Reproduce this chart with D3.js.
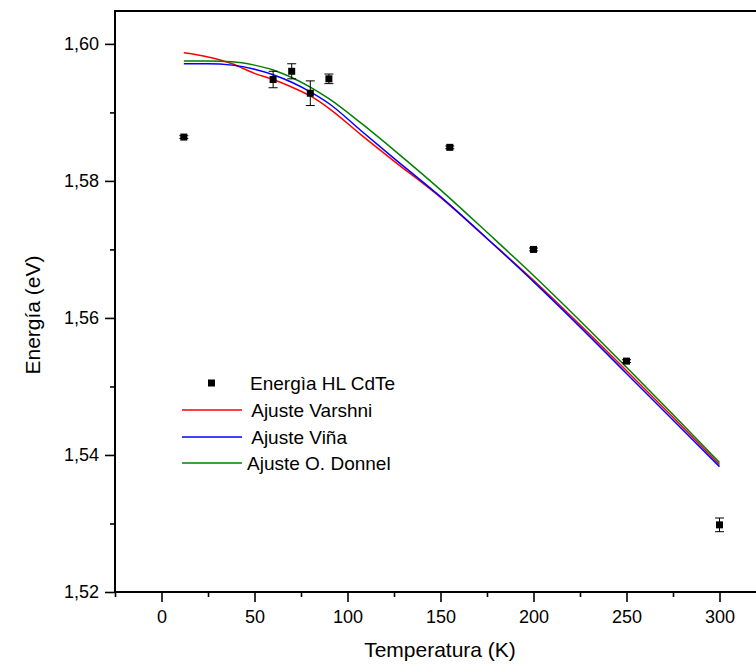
<!DOCTYPE html>
<html>
<head>
<meta charset="utf-8">
<script src="https://cdn.jsdelivr.net/npm/d3@7"></script>
<style>
  html, body { margin: 0; padding: 0; background: #fff; }
  svg { display: block; font-family: "Liberation Sans", Arial, sans-serif; }
</style>
</head>
<body>
<svg id="chart" width="756" height="671"></svg>
<script>
// Measured band-gap energy of the HL line in CdTe
const tempK    = [12, 60, 70, 80, 90, 155, 200, 250, 300];
const energyEv = [1.5864, 1.5948, 1.5960, 1.5928, 1.5949, 1.5849, 1.5700, 1.5537, 1.5298];
const errorEv  = [0.0002, 0.0012, 0.0011, 0.0018, 0.0007, 0.0002, 0.0002, 0.0002, 0.0010];

// Fitted curves sampled along temperature
const fitTemp    = [12, 25, 38, 50, 60, 70, 80, 90, 107, 125, 150, 175, 200, 225, 250, 275, 300];
const fitVarshni = [1.5987, 1.5981, 1.5971, 1.5957, 1.5948, 1.5937, 1.5924, 1.5906, 1.5868, 1.5829, 1.5776, 1.5716, 1.5655, 1.5590, 1.5523, 1.5455, 1.5386];
const fitVina    = [1.5971, 1.5971, 1.5969, 1.5963, 1.5955, 1.5944, 1.5930, 1.5913, 1.5874, 1.5833, 1.5777, 1.5716, 1.5653, 1.5587, 1.5519, 1.5451, 1.5383];
const fitDonnel  = [1.5975, 1.5975, 1.5974, 1.5969, 1.5962, 1.5951, 1.5937, 1.5920, 1.5885, 1.5845, 1.5787, 1.5725, 1.5662, 1.5596, 1.5528, 1.5459, 1.5389];

const xTicks = [0, 50, 100, 150, 200, 250, 300];
const yTicks = [1.52, 1.54, 1.56, 1.58, 1.60];

const legendLabels = ["Energìa HL CdTe", " Ajuste Varshni", " Ajuste Viña", "Ajuste O. Donnel"];
const fitColors = ["#ff0000", "#0000ff", "#008000"];

const svg = d3.select("#chart");
const plotLeft = 115, plotTop = 11, plotBottom = 592;

const x = d3.scaleLinear().domain([-25, 328]).range([plotLeft, plotLeft + 353 * 1.86]);
const y = d3.scaleLinear().domain([1.52, 1.6048]).range([plotBottom, plotTop]);

const comma = v => d3.format(".2f")(v).replace(".", ",");

// Frame (right edge runs past the view)
svg.append("rect")
  .attr("x", plotLeft).attr("y", plotTop)
  .attr("width", x(328) - plotLeft).attr("height", plotBottom - plotTop)
  .attr("fill", "none").attr("stroke", "#000").attr("stroke-width", 2);

// Axes
const xAxis = d3.axisBottom(x).tickValues(xTicks).tickSize(10).tickPadding(8).tickFormat(d3.format("d"));
const xMinor = d3.axisBottom(x).tickValues([-25, 25, 75, 125, 175, 225, 275, 325]).tickSize(5).tickFormat("");
const yAxis = d3.axisLeft(y).tickValues(yTicks).tickSize(10).tickPadding(6).tickFormat(comma);
const yMinor = d3.axisLeft(y).tickValues([1.53, 1.55, 1.57, 1.59]).tickSize(5).tickFormat("");

function styleAxis(g) {
  g.select(".domain").remove();
  g.selectAll("line").attr("stroke", "#000").attr("stroke-width", 1.6);
  g.selectAll("text").attr("font-size", 18).attr("fill", "#000")
    .attr("font-family", "'Liberation Sans', Arial, sans-serif");
}

svg.append("g").attr("transform", `translate(0,${plotBottom})`).call(xAxis).call(styleAxis);
svg.append("g").attr("transform", `translate(0,${plotBottom})`).call(xMinor).call(styleAxis);
svg.append("g").attr("transform", `translate(${plotLeft},0)`).call(yAxis).call(styleAxis);
svg.append("g").attr("transform", `translate(${plotLeft},0)`).call(yMinor).call(styleAxis);

// Axis titles
svg.append("text")
  .attr("x", 440).attr("y", 657)
  .attr("text-anchor", "middle").attr("font-size", 21)
  .text("Temperatura (K)");
svg.append("text")
  .attr("transform", "translate(40,315) rotate(-90)")
  .attr("text-anchor", "middle").attr("font-size", 21)
  .text("Energía (eV)");

// Fit curves
const line = d3.line().curve(d3.curveMonotoneX);
[fitVarshni, fitVina, fitDonnel].forEach((series, i) => {
  svg.append("path")
    .attr("d", line(fitTemp.map((t, j) => [x(t), y(series[j])])))
    .attr("fill", "none")
    .attr("stroke", fitColors[i])
    .attr("stroke-width", 1.5);
});

// Data points with error bars
const pts = svg.append("g");
tempK.forEach((t, i) => {
  const cx = x(t);
  const y0 = y(energyEv[i] - errorEv[i]), y1 = y(energyEv[i] + errorEv[i]);
  pts.append("line").attr("x1", cx).attr("x2", cx).attr("y1", y0).attr("y2", y1)
    .attr("stroke", "#000").attr("stroke-width", 1);
  [y0, y1].forEach(yy => pts.append("line")
    .attr("x1", cx - 4.5).attr("x2", cx + 4.5).attr("y1", yy).attr("y2", yy)
    .attr("stroke", "#000").attr("stroke-width", 1));
  pts.append("rect").attr("x", cx - 3.5).attr("y", y(energyEv[i]) - 3.5)
    .attr("width", 7).attr("height", 7).attr("fill", "#000");
});

// Legend
const lg = svg.append("g");
const rowY = [383, 410, 437, 463];
lg.append("rect").attr("x", 208).attr("y", rowY[0] - 3.5).attr("width", 7).attr("height", 7).attr("fill", "#000");
lg.append("text").attr("x", 250).attr("y", rowY[0] + 7).attr("font-size", 19).text(legendLabels[0]);
fitColors.forEach((c, i) => {
  lg.append("line").attr("x1", 182).attr("x2", 242)
    .attr("y1", rowY[i + 1]).attr("y2", rowY[i + 1])
    .attr("stroke", c).attr("stroke-width", 1.3);
  lg.append("text").attr("x", 247).attr("y", rowY[i + 1] + 7).attr("font-size", 19)
    .attr("xml:space", "preserve").style("white-space", "pre").text(legendLabels[i + 1]);
});
</script>
</body>
</html>
